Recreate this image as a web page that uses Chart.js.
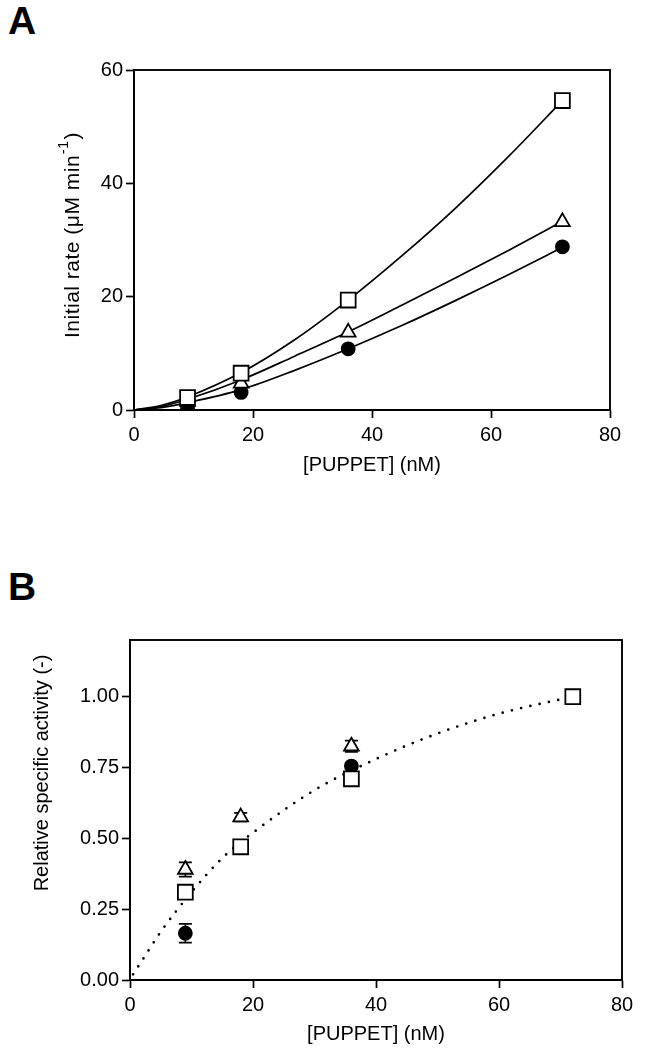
<!DOCTYPE html>
<html>
<head>
<meta charset="utf-8">
<title>PUPPET rates</title>
<script src="https://cdn.jsdelivr.net/npm/chart.js@4.4.1/dist/chart.umd.min.js"></script>
<style>
  body { margin: 0; background: #fff; width: 665px; height: 1054px; position: relative; overflow: hidden; }
  canvas { position: absolute; left: 0; }
  .panel { position: absolute; left: 8px; font: bold 39px "Liberation Sans", Arial, sans-serif; color: #000; }
</style>
</head>
<body>
<div class="panel" style="top:-1px">A</div>
<div class="panel" style="top:565px">B</div>
<canvas id="chartA" width="665" height="490" style="top:0"></canvas>
<canvas id="chartB" width="665" height="544" style="top:510px"></canvas>

<script>
// ---- data ----
var conc = [9, 18, 36, 72];

// panel A: initial rate (uM/min)
var rateSquare = [2.2, 6.5, 19.4, 54.6];
var rateTriangle = [1.5, 4.7, 13.7, 33.2];
var rateCircle = [0.4, 3.1, 10.8, 28.8];

// fitted curves in panel A
var fitConc = [0, 4.5, 9, 18, 27, 36, 45, 54, 63, 72];
var fitSquare = [0, 0.8, 2.3, 6.6, 12.4, 19.4, 27.2, 35.6, 44.8, 54.6];
var fitTriangle = [0, 0.6, 1.9, 5.3, 9.5, 13.8, 18.5, 23.3, 28.2, 33.3];
var fitCircle = [0, 0.4, 1.3, 3.6, 7.0, 10.8, 14.9, 19.3, 23.9, 28.7];

// panel B: relative specific activity (points hidden behind squares left out)
var relSquare = [0.31, 0.47, 0.71, 1.00];
var relTriangle = [0.39, 0.575, 0.825, null];
var relCircle = [0.165, null, 0.755, null];
var errTriangle = [0.025, 0.015, 0.02, 0];
var errCircle = [0.033, 0, 0.01, 0];

// dotted curve in panel B
var fitConcB = [0.5, 2, 5, 10, 15, 20, 30, 40, 50, 60, 72];
var fitRel = [0.02, 0.07, 0.17, 0.31, 0.43, 0.52, 0.67, 0.78, 0.87, 0.94, 1.00];

var xTicks = [0, 20, 40, 60, 80];
var yTicksA = [0, 20, 40, 60];
var yTicksB = [0, 0.25, 0.5, 0.75, 1.0];

var FONT = '"Liberation Sans", Arial, sans-serif';

function pts(xs, ys) {
    return xs.map(function (x, i) { return {x: x, y: ys[i]}; });
}

function markers(data, style, radius, fill) {
    return {
        data: data, pointStyle: style, pointRadius: radius, pointHoverRadius: radius,
        pointBackgroundColor: fill, pointBorderColor: '#000', pointBorderWidth: 1.8,
        showLine: false
    };
}

function fitLine(data, dotted) {
    var d = {
        data: data, showLine: true, pointRadius: 0, borderColor: '#000',
        borderWidth: 1.7, cubicInterpolationMode: 'monotone', fill: false
    };
    if (dotted) {
        d.borderDash = [0, 9.5];
        d.borderCapStyle = 'round';
        d.borderWidth = 2.7;
    }
    return d;
}

function axisOpts(min, max, ticks, fmt, fitSize, isY) {
    return {
        type: 'linear', min: min, max: max,
        afterBuildTicks: function (s) { s.ticks = ticks.map(function (v) { return {value: v}; }); },
        afterFit: function (s) { if (isY) s.width = fitSize; else s.height = fitSize; },
        grid: { display: true, drawOnChartArea: false, drawTicks: true, tickLength: 8, tickWidth: 1.7, tickColor: '#000' },
        border: { display: true, color: '#000', width: 1.9 },
        ticks: { color: '#000', font: { family: FONT, size: 20 }, padding: isY ? 3 : 5, callback: fmt, maxRotation: 0, autoSkip: false }
    };
}

// box around plot area + axis titles
var framePlugin = {
    id: 'frame',
    afterDraw: function (chart, args, opts) {
        var ctx = chart.ctx, a = chart.chartArea;
        ctx.save();
        ctx.strokeStyle = '#000';
        ctx.lineWidth = 1.9;
        ctx.strokeRect(a.left, a.top, a.right - a.left, a.bottom - a.top);

        ctx.fillStyle = '#000';
        ctx.font = '20px ' + FONT;
        ctx.textAlign = 'center';
        ctx.textBaseline = 'middle';
        ctx.fillText(opts.xTitle, (a.left + a.right) / 2, opts.xTitleY);

        var fs = opts.ySize || 20;
        ctx.translate(opts.yTitleX, opts.yTitleY);
        ctx.rotate(-Math.PI / 2);
        ctx.textAlign = 'left';
        if (opts.ySpacing) ctx.letterSpacing = opts.ySpacing;
        var main = opts.yTitle, sup = opts.ySup || '', tail = opts.yTail || '';
        ctx.font = fs + 'px ' + FONT;
        var wMain = ctx.measureText(main).width;
        ctx.font = '14px ' + FONT;
        var wSup = sup ? ctx.measureText(sup).width + 2 : 0;
        ctx.font = fs + 'px ' + FONT;
        var wTail = ctx.measureText(tail).width;
        var x0 = -(wMain + wSup + wTail) / 2;
        ctx.fillText(main, x0, 0);
        if (sup) {
            ctx.font = '14px ' + FONT;
            ctx.fillText(sup, x0 + wMain + 1, -9);
            ctx.font = fs + 'px ' + FONT;
        }
        ctx.fillText(tail, x0 + wMain + wSup, 0);
        ctx.restore();
    }
};

// vertical error bars drawn under the markers
var errorPlugin = {
    id: 'errbars',
    beforeDatasetsDraw: function (chart, args, opts) {
        if (!opts.bars) return;
        var ctx = chart.ctx, xs = chart.scales.x, ys = chart.scales.y;
        ctx.save();
        ctx.strokeStyle = '#000';
        ctx.lineWidth = 1.7;
        opts.bars.forEach(function (b) {
            b.x.forEach(function (xv, i) {
                var e = b.err[i];
                if (!e || b.y[i] == null) return;
                var px = xs.getPixelForValue(xv);
                var top = ys.getPixelForValue(b.y[i] + e);
                var bot = ys.getPixelForValue(b.y[i] - e);
                ctx.beginPath();
                ctx.moveTo(px, top); ctx.lineTo(px, bot);
                ctx.moveTo(px - 6.5, top); ctx.lineTo(px + 6.5, top);
                ctx.moveTo(px - 6.5, bot); ctx.lineTo(px + 6.5, bot);
                ctx.stroke();
            });
        });
        ctx.restore();
    }
};

var intFmt = function (v) { return String(v); };
var decFmt = function (v) { return Number(v).toFixed(2); };

// panel A: plot area 134..610 x 70..410
new Chart(document.getElementById('chartA'), {
    type: 'scatter',
    data: {
        datasets: [
            markers(pts(conc, rateSquare), 'rect', 10.5, '#fff'),
            markers(pts(conc, rateTriangle), 'triangle', 8.5, '#fff'),
            markers(pts(conc, rateCircle), 'circle', 6.5, '#000'),
            fitLine(pts(fitConc, fitSquare)),
            fitLine(pts(fitConc, fitTriangle)),
            fitLine(pts(fitConc, fitCircle))
        ]
    },
    options: {
        responsive: false, animation: false, events: [],
        layout: { padding: { left: 10, top: 70, right: 55, bottom: 0 } },
        scales: {
            x: axisOpts(0, 80, xTicks, intFmt, 80, false),
            y: axisOpts(0, 60, yTicksA, intFmt, 124, true)
        },
        plugins: {
            legend: { display: false }, tooltip: { enabled: false },
            frame: { xTitle: '[PUPPET] (nM)', xTitleY: 465, yTitle: 'Initial rate (\u03bcM min', ySup: '-1', yTail: ')',
                     ySize: 21, ySpacing: '0.5px', yTitleX: 73, yTitleY: 235 }
        }
    },
    plugins: [framePlugin, errorPlugin]
});

// panel B: plot area 130..622 x 640..980 (canvas starts at 510)
new Chart(document.getElementById('chartB'), {
    type: 'scatter',
    data: {
        datasets: [
            markers(pts(conc, relSquare), 'rect', 10.5, '#fff'),
            markers(pts(conc, relTriangle), 'triangle', 8.5, '#fff'),
            markers(pts(conc, relCircle), 'circle', 6.5, '#000'),
            fitLine(pts(fitConcB, fitRel), true)
        ]
    },
    options: {
        responsive: false, animation: false, events: [],
        layout: { padding: { left: 10, top: 130, right: 43, bottom: 0 } },
        scales: {
            x: axisOpts(0, 80, xTicks, intFmt, 74, false),
            y: axisOpts(0, 1.2, yTicksB, decFmt, 120, true)
        },
        plugins: {
            legend: { display: false }, tooltip: { enabled: false },
            frame: { xTitle: '[PUPPET] (nM)', xTitleY: 524, yTitle: 'Relative specific activity (-)', yTitleX: 42, yTitleY: 263 },
            errbars: { bars: [
                { x: conc, y: relTriangle, err: errTriangle },
                { x: conc, y: relCircle, err: errCircle }
            ] }
        }
    },
    plugins: [framePlugin, errorPlugin]
});
</script>
</body>
</html>
